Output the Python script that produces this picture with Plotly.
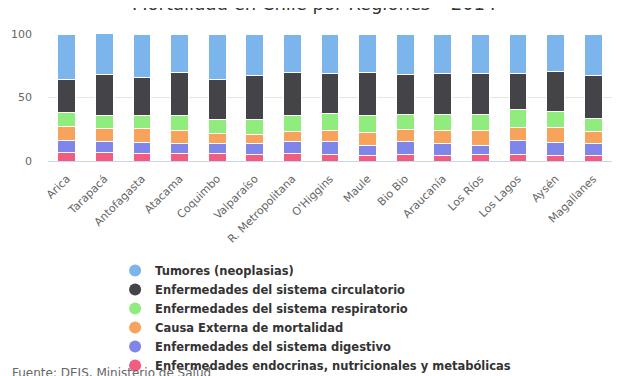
import plotly.graph_objects as go

regions = ["Arica", "Tarapacá", "Antofagasta", "Atacama", "Coquimbo", "Valparaíso",
           "R. Metropolitana", "O'Higgins", "Maule", "Bio Bio", "Araucanía", "Los Ríos",
           "Los Lagos", "Aysén", "Magallanes"]

endocrinas = [7.0, 6.5, 6.3, 6.0, 6.0, 5.5, 6.0, 5.5, 4.5, 5.5, 4.5, 5.5, 5.2, 4.2, 4.5]
digestivo = [9.0, 9.0, 8.1, 7.9, 7.4, 7.9, 9.5, 10.0, 8.1, 9.5, 8.9, 7.1, 10.8, 10.0, 8.9]
externa = [11.0, 10.0, 11.1, 10.5, 8.4, 7.3, 7.6, 8.9, 10.0, 10.2, 11.0, 11.5, 10.5, 12.3, 9.7]
respiratorio = [11.0, 10.0, 10.5, 11.3, 11.0, 12.1, 12.6, 13.1, 13.1, 11.3, 12.1, 12.4, 13.7, 12.6, 10.2]
circulatorio = [26.0, 33.0, 29.6, 33.9, 31.5, 34.9, 33.9, 31.5, 33.9, 31.7, 32.3, 32.3, 28.6, 31.5, 33.9]
tumores = [36.0, 32.0, 34.4, 30.4, 35.7, 32.3, 30.4, 31.0, 30.4, 31.8, 31.2, 31.2, 31.2, 29.4, 32.8]

series = [
    ("Enfermedades endocrinas, nutricionales y metabólicas", endocrinas, "#f15c80"),
    ("Enfermedades del sistema digestivo", digestivo, "#8085e9"),
    ("Causa Externa de mortalidad", externa, "#f7a35c"),
    ("Enfermedades del sistema respiratorio", respiratorio, "#90ed7d"),
    ("Enfermedades del sistema circulatorio", circulatorio, "#434348"),
    ("Tumores (neoplasias)", tumores, "#7cb5ec"),
]

font_family = "DejaVu Sans"
fig = go.Figure()
for name, vals, color in series:
    fig.add_trace(go.Bar(x=regions, y=vals, name=name, marker=dict(color=color, line=dict(color="white", width=1)),
                         width=0.47, showlegend=False))

# legend entries with circle markers, top to bottom
for name, vals, color in reversed(series):
    fig.add_trace(go.Scatter(x=[None], y=[None], mode="markers", name=name,
                             marker=dict(symbol="circle", size=12, color=color)))

fig.update_layout(
    width=627, height=376,
    barmode="stack",
    plot_bgcolor="white", paper_bgcolor="white",
    margin=dict(l=40, r=23, t=26, b=223, autoexpand=False),
    font=dict(family=font_family, color="#666666", size=11),
    showlegend=True,
    legend=dict(x=0.119, y=-0.748, xanchor="left", yanchor="top", traceorder="normal",
                font=dict(family=font_family, size=11.5, color="#333333", weight="bold"),
                bgcolor="rgba(0,0,0,0)", itemwidth=30, tracegroupgap=0),
    xaxis=dict(tickangle=-45, showline=True, linecolor="#ccd6eb", linewidth=1, ticks="",
               tickfont=dict(size=11, color="#666666"), showgrid=False, automargin=False,
               ticklabelstandoff=6),
    yaxis=dict(range=[0, 100], tickvals=[0, 50, 100], showgrid=True, gridcolor="#e6e6e6",
               zeroline=False, tickfont=dict(size=11, color="#666666"), ticks="",
               ticklabelstandoff=15, automargin=False),
    annotations=[
        dict(text="Mortalidad en Chile por Regiones – 2014", xref="paper", yref="paper",
             x=0.4725, y=1.244, xanchor="center", yanchor="middle", showarrow=False,
             font=dict(size=18, color="#333333", family=font_family)),
        dict(text="Fuente: DEIS, Ministerio de Salud", xref="paper", yref="paper",
             x=-0.0674, y=-1.669, xanchor="left", yanchor="middle", showarrow=False,
             font=dict(size=12, color="#666666", family=font_family)),
    ],
)

fig.write_html("out.html")
